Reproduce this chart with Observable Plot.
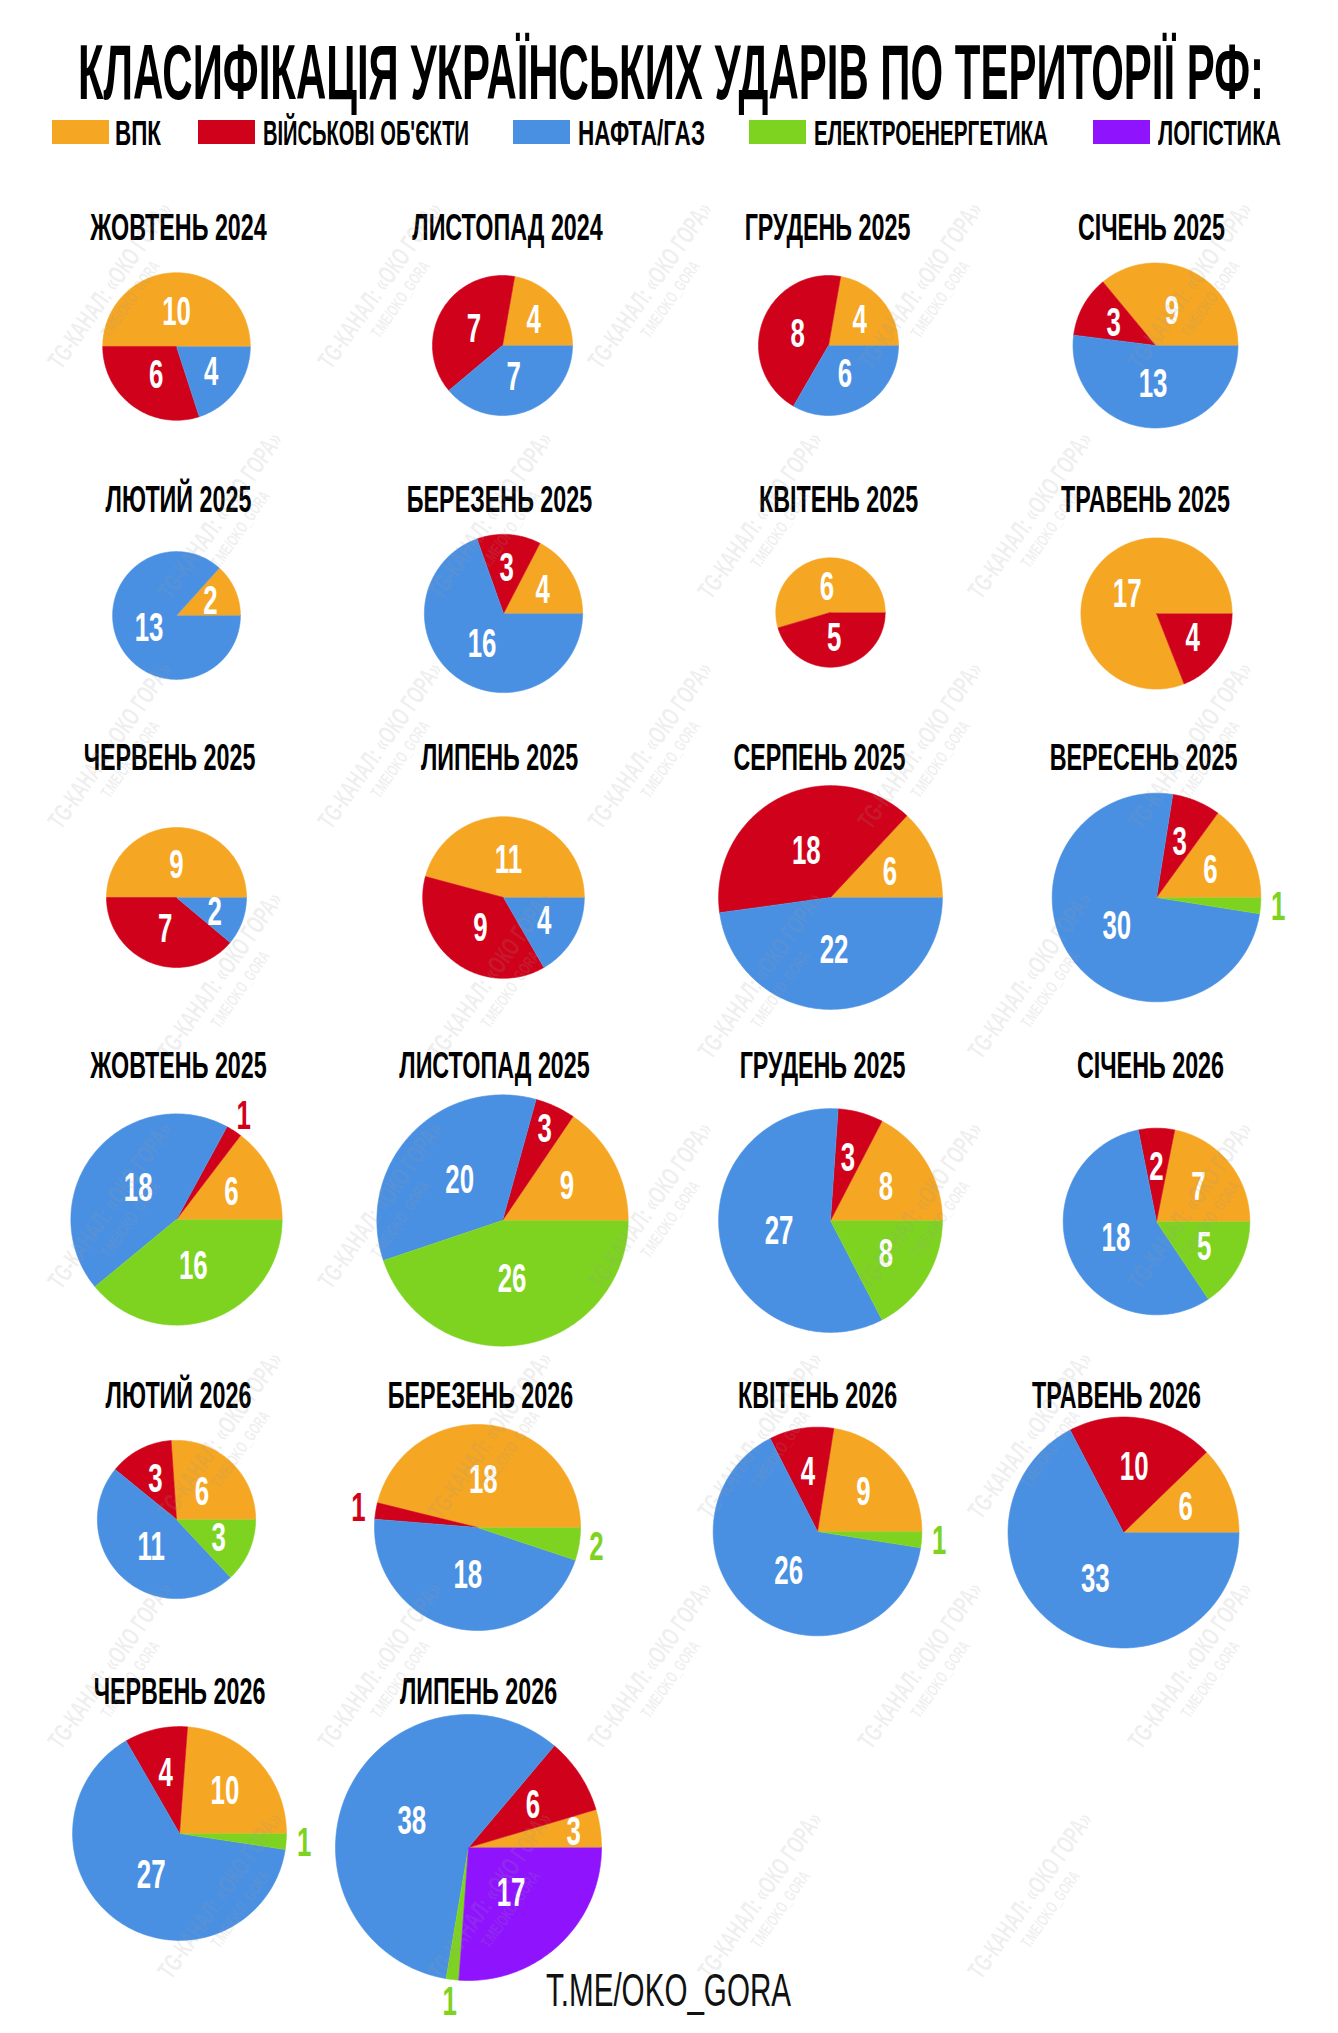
<!DOCTYPE html>
<html><head><meta charset="utf-8">
<script src="https://cdn.jsdelivr.net/npm/d3@7"></script>
<script src="https://cdn.jsdelivr.net/npm/@observablehq/plot@0.6"></script>
<style>
html,body{margin:0;padding:0;background:#fff;}
body{width:1338px;}
#header{position:relative;width:1338px;height:165px;overflow:hidden;}
#header .t{position:absolute;margin:0;white-space:nowrap;transform-origin:0 0;font-family:"Liberation Sans",Arial,sans-serif;font-weight:bold;color:#000;line-height:0.8;}
#header .sw{position:absolute;}
#chart svg{display:block;}
</style></head><body>
<div id="header"></div>
<div id="chart"></div>
<script>
// ---------- data ----------
const categories = ["ВПК", "Військові об'єкти", "Нафта/газ", "Електроенергетика", "Логістика"];
const legendLabels = ["ВПК", "ВІЙСЬКОВІ ОБ'ЄКТИ", "НАФТА/ГАЗ", "ЕЛЕКТРОЕНЕРГЕТИКА", "ЛОГІСТИКА"];
const colors = ["#F5A623", "#D0021B", "#4A90E2", "#7ED321", "#9013FE"];
const months = ["ЖОВТЕНЬ 2024","ЛИСТОПАД 2024","ГРУДЕНЬ 2025","СІЧЕНЬ 2025",
  "ЛЮТИЙ 2025","БЕРЕЗЕНЬ 2025","КВІТЕНЬ 2025","ТРАВЕНЬ 2025",
  "ЧЕРВЕНЬ 2025","ЛИПЕНЬ 2025","СЕРПЕНЬ 2025","ВЕРЕСЕНЬ 2025",
  "ЖОВТЕНЬ 2025","ЛИСТОПАД 2025","ГРУДЕНЬ 2025","СІЧЕНЬ 2026",
  "ЛЮТИЙ 2026","БЕРЕЗЕНЬ 2026","КВІТЕНЬ 2026","ТРАВЕНЬ 2026",
  "ЧЕРВЕНЬ 2026","ЛИПЕНЬ 2026"];
const vpk  = [10, 4, 4, 9,   2, 4, 6,17,   9,11, 6, 6,   6, 9, 8, 7,   6,18, 9, 6,  10, 3];
const mil  = [ 6, 7, 8, 3,   0, 3, 5, 4,   7, 9,18, 3,   1, 3, 3, 2,   3, 1, 4,10,   4, 6];
const oil  = [ 4, 7, 6,13,  13,16, 0, 0,   2, 4,22,30,  18,20,27,18,  11,18,26,33,  27,38];
const elec = [ 0, 0, 0, 0,   0, 0, 0, 0,   0, 0, 0, 1,  16,26, 8, 5,   3, 2, 1, 0,   1, 1];
const logi = [ 0, 0, 0, 0,   0, 0, 0, 0,   0, 0, 0, 0,   0, 0, 0, 0,   0, 0, 0, 0,   0,17];
const title = "КЛАСИФІКАЦІЯ УКРАЇНСЬКИХ УДАРІВ ПО ТЕРИТОРІЇ РФ:";
const footer = "T.ME/OKO_GORA";
const watermark1 = "TG-КАНАЛ: «ОКО ГОРА»";
const watermark2 = "T.ME/OKO_GORA";

// ---------- layout (page pixels) ----------
const W = 1338, H = 2033, HEAD = 165, PH = H - HEAD;
const pieX = [176,502,828,1155, 176,503,830,1156, 176,503,830,1156, 176,502,830,1156, 176,477,817,1123, 179,468];
const pieY = [346,345,345,345, 615,613,612,613, 897,897,897,897, 1219,1220,1220,1221, 1519,1527,1531,1532, 1833,1847];
const titleX = [178,507,827,1151, 178,499,838,1145, 169,499,819,1143, 178,494,822,1150, 178,480,817,1116, 179,478];
const rowTitleY = [228,500,758,1066,1396,1692];
const SQ = 0.63; // horizontal squeeze for condensed look
const FONT = "Liberation Sans";

// ---------- header (title + legend) ----------
const header = document.getElementById("header");
const ctx = document.createElement("canvas").getContext("2d");
function measure(str, px, weight) {
  ctx.font = `${weight} ${px}px "${FONT}"`;
  return ctx.measureText(str).width;
}
function addText(str, px, left, baseline, targetW, tag) {
  const el = document.createElement(tag || "div");
  el.className = "t";
  el.textContent = str;
  el.style.fontSize = px + "px";
  el.style.left = left + "px";
  el.style.top = (baseline - 0.747 * px) + "px";
  el.style.transform = `scaleX(${targetW / measure(str, px, "bold")})`;
  header.appendChild(el);
  return el;
}
addText(title, 77, 78, 100, 1186, "h1");
const swX = [52, 198, 513, 749, 1093];
const lbX = [115, 263, 578, 814, 1158];
const lbW = [46, 206, 127, 234, 123];
legendLabels.forEach((lab, j) => {
  const sw = document.createElement("div");
  sw.className = "sw";
  Object.assign(sw.style, {left: swX[j] + "px", top: "120px", width: "57px", height: "24px", background: colors[j]});
  header.appendChild(sw);
  addText(lab, 35, lbX[j], 145, lbW[j]);
});

// ---------- build slices ----------
const series = [vpk, mil, oil, elec, logi];
const rScale = Plot.scale({r: {type: "sqrt", domain: [0, 65], range: [0, 133]}});
const slicePts = [];
const labels = [];
months.forEach((m, i) => {
  const vals = series.map(s => s[i]);
  const total = d3.sum(vals);
  const R = rScale.apply(total);
  const cx = pieX[i], cy = pieY[i] - HEAD;
  let acc = 0;
  vals.forEach((v, j) => {
    if (!v) return;
    const a0 = acc / total * 2 * Math.PI, a1 = (acc + v) / total * 2 * Math.PI;
    acc += v;
    const id = i + "-" + j, cat = categories[j];
    const n = Math.max(2, Math.ceil((a1 - a0) / (Math.PI / 180)));
    if (v < total) slicePts.push({id, cat, x: cx, y: cy});
    for (let k = 0; k <= n; k++) {
      const a = a0 + (a1 - a0) * k / n;
      slicePts.push({id, cat, x: cx + R * Math.cos(a), y: cy - R * Math.sin(a)});
    }
    const share = v / total, am = (a0 + a1) / 2;
    const outside = v <= 2 && share < 0.06;
    const f = outside ? 1.17 : share < 0.055 ? 0.8 : share < 0.25 ? 0.58 : 0.47;
    labels.push({text: String(v), cat, outside, x: cx + f * R * Math.cos(am), y: cy - f * R * Math.sin(am)});
  });
});
const titles = months.map((m, i) => ({text: m, x: titleX[i], y: rowTitleY[Math.floor(i / 4)] - HEAD}));

// watermark grid (decorative)
const wm = [];
for (let r = 0; r < 8; r++) for (let c = 0; c < 5; c++) {
  const x = 110 + c * 270 + (r % 2) * 110, y = 120 + r * 230;
  if (x > 1230 || y > PH - 120) continue;
  wm.push({x, y, t: watermark1, s: 26});
  wm.push({x: x + 20, y: y + 14, t: watermark2, s: 17});
}

// ---------- plot ----------
const plot = Plot.plot({
  width: W, height: PH, margin: 0,
  x: {domain: [0, W], range: [0, W], axis: null},
  y: {domain: [0, PH], range: [0, PH], axis: null},
  color: {domain: categories, range: colors},
  style: {background: "#fff", overflow: "visible", fontFamily: FONT},
  marks: [
    Plot.line(slicePts, {x: "x", y: "y", z: "id", fill: "cat", stroke: "cat", strokeWidth: 0.6, curve: "linear"}),
    Plot.text(titles, {x: "x", y: "y", text: "text", fontFamily: FONT, fontWeight: "bold", fontSize: 37, fill: "#000"}),
    Plot.text(labels.filter(d => !d.outside), {x: "x", y: "y", text: "text", fontFamily: FONT, fontWeight: "bold", fontSize: 41, fill: "#fff"}),
    Plot.text(labels.filter(d => d.outside), {x: "x", y: "y", text: "text", fontFamily: FONT, fontWeight: "bold", fontSize: 41, fill: "cat"}),
    Plot.text([{x: 668, y: 1990 - HEAD, t: footer}], {x: "x", y: "y", text: "t", fontFamily: FONT, fontSize: 47, fill: "#111"}),
    Plot.text(wm, {x: "x", y: "y", text: "t", fontSize: "s", rotate: -55, fontFamily: FONT, fontWeight: "bold", fill: "#9a9a9a", fillOpacity: 0.16})
  ]
});
// condensed look: squeeze glyphs horizontally around each anchor
plot.querySelectorAll("text").forEach(el => {
  const t = el.getAttribute("transform");
  if (t) el.setAttribute("transform", t + ` scale(${SQ},1)`);
  else {
    const x = +el.getAttribute("x") || 0, y = +el.getAttribute("y") || 0;
    el.removeAttribute("x"); el.removeAttribute("y");
    el.setAttribute("transform", `translate(${x},${y}) scale(${SQ},1)`);
  }
});
document.getElementById("chart").appendChild(plot);
</script>
</body></html>
